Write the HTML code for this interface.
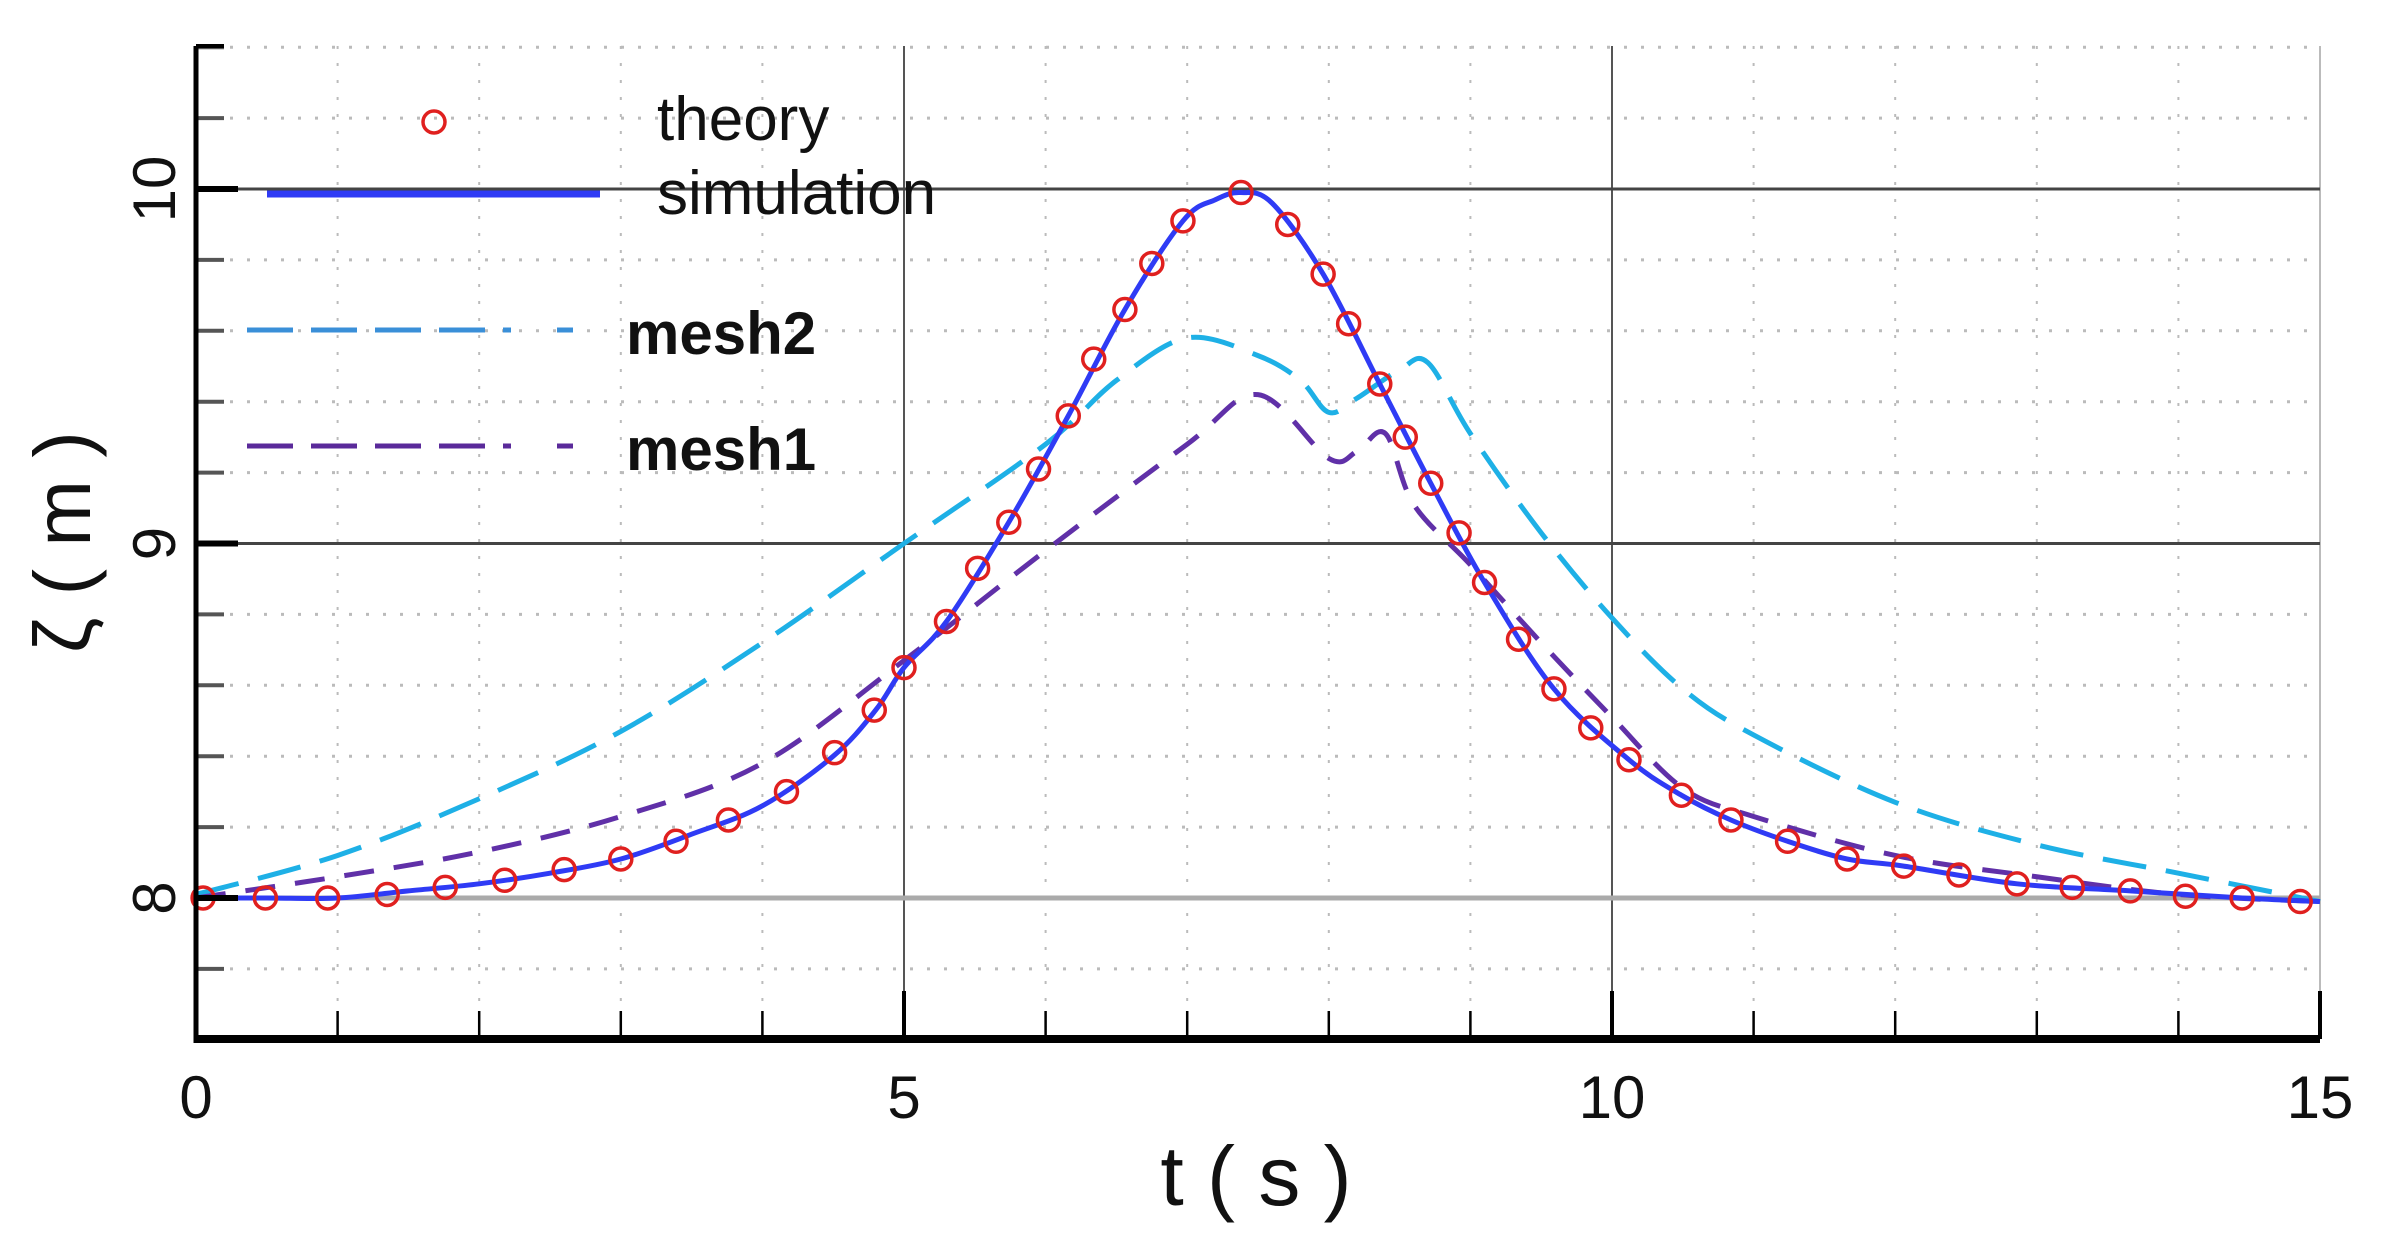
<!DOCTYPE html>
<html><head><meta charset="utf-8"><style>
html,body{margin:0;padding:0;background:#fff;}
svg{display:block;font-family:"Liberation Sans",sans-serif;}
</style></head><body>
<svg id="chart" width="2383" height="1248" viewBox="0 0 2383 1248" xmlns="http://www.w3.org/2000/svg">
<g id="grid"></g>
<g id="series"></g>
<g id="axes"></g>
<g id="legend">
  <circle cx="434" cy="122" r="11" fill="none" stroke="#e0201f" stroke-width="3.5"/>
  <text x="657" y="140" font-size="62" fill="#111">theory</text>
  <line x1="267" y1="194" x2="600" y2="194" stroke="#2f3bf5" stroke-width="7"/>
  <text x="657" y="214" font-size="62" fill="#111">simulation</text>
  <line x1="247" y1="330" x2="573" y2="330" stroke="#3a8fd8" stroke-width="5" stroke-dasharray="46 18 46 18 46 18 46 18 8"/>
  <text x="626" y="354" font-size="60" font-weight="bold" fill="#111">mesh2</text>
  <line x1="247" y1="446" x2="573" y2="446" stroke="#5a2a9a" stroke-width="5" stroke-dasharray="46 18 46 18 46 18 46 18 8"/>
  <text x="626" y="470" font-size="60" font-weight="bold" fill="#111">mesh1</text>
</g>
</svg>
<script>
const theoryT=[0.05,0.49,0.93,1.35,1.76,2.18,2.6,3.0,3.39,3.76,4.17,4.51,4.79,5.0,5.3,5.52,5.74,5.95,6.16,6.34,6.56,6.75,6.97,7.38,7.71,7.96,8.14,8.36,8.54,8.72,8.92,9.1,9.34,9.59,9.85,10.12,10.49,10.84,11.24,11.66,12.06,12.45,12.86,13.25,13.66,14.05,14.45,14.86];
const theoryV=[8.0,8.0,8.0,8.01,8.03,8.05,8.08,8.11,8.16,8.22,8.30,8.41,8.53,8.65,8.78,8.93,9.06,9.21,9.36,9.52,9.66,9.79,9.91,9.99,9.90,9.76,9.62,9.45,9.30,9.17,9.03,8.89,8.73,8.59,8.48,8.39,8.29,8.22,8.16,8.11,8.09,8.065,8.04,8.03,8.02,8.005,8.0,7.99];
const simT=[0,0.5,1,1.5,2,2.5,3,3.5,4,4.5,4.8,5,5.3,5.74,6.16,6.56,6.97,7.2,7.38,7.6,7.96,8.36,8.72,9.1,9.59,10.12,10.49,10.84,11.24,11.66,12.06,12.86,13.66,14.45,15];
const simV=[8.0,8.0,8.0,8.02,8.04,8.07,8.11,8.18,8.26,8.40,8.53,8.65,8.78,9.06,9.36,9.66,9.91,9.97,9.99,9.96,9.76,9.45,9.17,8.89,8.59,8.39,8.29,8.22,8.16,8.11,8.09,8.04,8.02,8.0,7.99];
const mesh2T=[0,1,2,3,4,5,6,6.5,7,7.5,7.8,8.0,8.2,8.5,8.7,9,9.5,10,10.5,11,12,13,14,15];
const mesh2V=[8.01,8.12,8.28,8.47,8.72,9.0,9.28,9.46,9.58,9.53,9.46,9.37,9.41,9.49,9.51,9.31,9.03,8.79,8.59,8.46,8.27,8.15,8.07,7.99];
const mesh1T=[0,1,2,3,4,5,6,7,7.5,8.0,8.2,8.4,8.6,9,9.5,10,10.5,11,12,13,14,15];
const mesh1V=[8.0,8.06,8.13,8.23,8.38,8.67,8.98,9.28,9.42,9.24,9.26,9.31,9.11,8.94,8.72,8.51,8.31,8.23,8.12,8.06,8.01,7.99];
const xTicks=[0,5,10,15];
const yTicks=[8,9,10];

const X0=196,X1=2320,YB=1039,YT=46;
const xs=t=>X0+(t-0)/(15-0)*(X1-X0);
const ys=v=>898-(v-8)*354.5;
const NS='http://www.w3.org/2000/svg';
function mk(tag,attrs,parent){const e=document.createElementNS(NS,tag);for(const k in attrs)e.setAttribute(k,attrs[k]);parent.appendChild(e);return e;}
const grid=document.getElementById('grid'),axes=document.getElementById('axes'),series=document.getElementById('series');

// vertical grid
for(let t=1;t<=15;t++){
  let e;
  if(t%5===0){e=mk('line',{x1:xs(t),x2:xs(t),y1:YT,y2:YB,stroke:t===15?'#bbb':'#555','stroke-width':2},grid);}
  else{e=mk('line',{x1:xs(t),x2:xs(t),y1:YT,y2:YB,stroke:'#bbb','stroke-width':2,'stroke-dasharray':'3 14'},grid);}
  
  
}
// horizontal grid
for(let i=-2;i<=12;i++){
  const v=8+i*0.2;
  let e;
  if(i%5===0){e=mk('line',{x1:X0,x2:X1,y1:ys(v),y2:ys(v),stroke:i===0?'#aaa':'#444','stroke-width':i===0?5:3},grid);}
  else{e=mk('line',{x1:X0,x2:X1,y1:ys(v),y2:ys(v),stroke:'#bbb','stroke-width':3,'stroke-dasharray':'3 14'},grid);
    const tk=mk('line',{x1:X0,x2:X0+28,y1:ys(v),y2:ys(v),stroke:'#555','stroke-width':4},axes);
    
    }
  
  
}
// axes lines
let a=mk('line',{x1:X0,x2:X0,y1:YT,y2:YB+4,stroke:'#000','stroke-width':5},axes);


a=mk('line',{x1:X0,x2:X1,y1:YB,y2:YB,stroke:'#000','stroke-width':8},axes);


a=mk('line',{x1:X0,x2:X0+28,y1:YT,y2:YT,stroke:'#000','stroke-width':4},axes);


// x ticks
for(let t=1;t<=15;t++){
  const major=t%5===0;
  const e=mk('line',{x1:xs(t),x2:xs(t),y1:YB,y2:YB-(major?48:28),stroke:'#000','stroke-width':major?4:2.5},axes);
  
  
}
xTicks.forEach(t=>{
  const e=mk('text',{x:xs(t),y:1118,'font-size':60,'text-anchor':'middle',fill:'#111'},axes);
  e.textContent=String(t);
  
  
});
yTicks.forEach(v=>{
  const tk=mk('line',{x1:X0,x2:X0+42,y1:ys(v),y2:ys(v),stroke:'#000','stroke-width':6},axes);
  
  
  const e=mk('text',{x:0,y:0,'font-size':60,'text-anchor':'middle',fill:'#111',transform:`translate(175,${ys(v)}) rotate(-90)`},axes);
  e.textContent=String(v);
  
  
});
let tt=mk('text',{x:1256,y:1205,'font-size':84,'text-anchor':'middle',fill:'#111'},axes);
tt.textContent='t ( s )';


tt=mk('text',{x:0,y:0,'font-size':80,'text-anchor':'middle',fill:'#111',transform:'translate(90,542) rotate(-90)'},axes);
tt.textContent='ζ ( m )';



function smooth(T,V){
  const p=T.map((t,i)=>[xs(t),ys(V[i])]);
  let d=`M${p[0][0]},${p[0][1]}`;
  for(let i=0;i<p.length-1;i++){
    const p0=p[Math.max(0,i-1)],p1=p[i],p2=p[i+1],p3=p[Math.min(p.length-1,i+2)];
    const c1=[p1[0]+(p2[0]-p0[0])/6,p1[1]+(p2[1]-p0[1])/6];
    const c2=[p2[0]-(p3[0]-p1[0])/6,p2[1]-(p3[1]-p1[1])/6];
    d+=` C${c1[0]},${c1[1]} ${c2[0]},${c2[1]} ${p2[0]},${p2[1]}`;
  }
  return d;
}
let s=mk('path',{d:smooth(mesh2T,mesh2V),fill:'none',stroke:'#1eb0e6','stroke-width':5,'stroke-dasharray':'44 20'},series);


s=mk('path',{d:smooth(mesh1T,mesh1V),fill:'none',stroke:'#6030a8','stroke-width':5,'stroke-dasharray':'30 20'},series);


s=mk('path',{d:smooth(simT,simV),fill:'none',stroke:'#2f3bf5','stroke-width':5},series);


theoryT.forEach((t,i)=>{
  const c=mk('circle',{cx:xs(t),cy:ys(theoryV[i]),r:11,fill:'none',stroke:'#e0201f','stroke-width':3.5},series);
  
  
});
</script>
</body></html>
